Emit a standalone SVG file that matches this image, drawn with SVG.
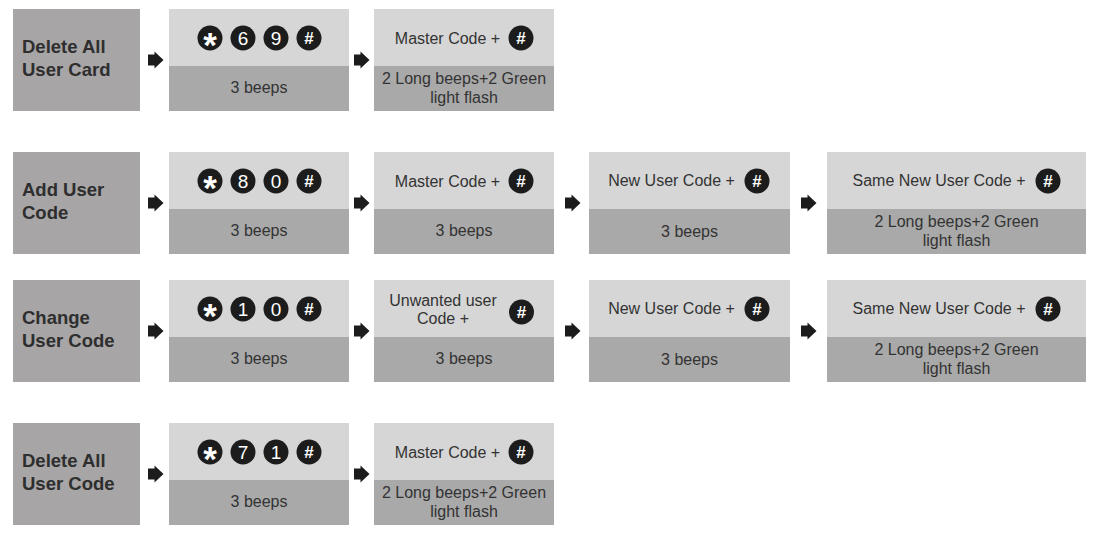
<svg xmlns="http://www.w3.org/2000/svg" width="1097" height="539" viewBox="0 0 1097 539">
<style>
.lab{fill:#a7a5a6}
.top{fill:#d6d6d6}
.bot{fill:#a9a9a9}
.lt{font-family:"Liberation Sans",Arial,sans-serif;font-weight:bold;font-size:18.5px;fill:#2e2e2e}
.t{font-family:"Liberation Sans",Arial,sans-serif;font-size:16px;fill:#333333;text-anchor:middle}
.k{fill:#1c1c1c}
.kd{font-family:"Liberation Sans",Arial,sans-serif;font-size:19px;fill:#ffffff;text-anchor:middle}
.kh{font-family:"Liberation Sans",Arial,sans-serif;font-weight:bold;font-size:17px;fill:#ffffff;text-anchor:middle}
.ks{font-family:"Liberation Sans",Arial,sans-serif;font-weight:bold;font-size:35px;fill:#ffffff;text-anchor:middle}
.arr{fill:#1c1c1c}
</style>
<defs>
<path id="ar" d="M0,-5.5 H6.5 V-8.5 L15.5,0 L6.5,8.5 V5.5 H0 Z"/>
</defs>
<rect width="1097" height="539" fill="#ffffff"/>

<!-- Row 1 -->
<g id="r1-label">
<rect class="lab" x="13" y="9" width="127" height="102"/>
<text class="lt" x="22" y="53">Delete All</text>
<text class="lt" x="22" y="76">User Card</text>
</g>
<g id="r1-keys">
<rect class="top" x="169" y="9" width="180" height="57"/>
<rect class="bot" x="169" y="66" width="180" height="45"/>
<circle class="k" cx="210" cy="38" r="12.5"/><text class="ks" x="210" y="57">*</text>
<circle class="k" cx="243" cy="38" r="12.5"/><text class="kd" x="243" y="45">6</text>
<circle class="k" cx="276" cy="38" r="12.5"/><text class="kd" x="276" y="45">9</text>
<circle class="k" cx="309" cy="38" r="12.5"/><text class="kh" x="309" y="44">#</text>
<text class="t" x="259" y="93">3 beeps</text>
</g>
<g id="r1-master">
<rect class="top" x="374" y="9" width="180" height="57"/>
<rect class="bot" x="374" y="66" width="180" height="45"/>
<text class="t" x="447.5" y="44">Master Code +</text>
<circle class="k" cx="521" cy="38" r="12.5"/><text class="kh" x="521" y="44">#</text>
<text class="t" x="464" y="84">2 Long beeps+2 Green</text>
<text class="t" x="464" y="103">light flash</text>
</g>

<!-- Row 2 -->
<g id="r2-label">
<rect class="lab" x="13" y="152" width="127" height="102"/>
<text class="lt" x="22" y="196">Add User</text>
<text class="lt" x="22" y="219">Code</text>
</g>
<g id="r2-keys">
<rect class="top" x="169" y="152" width="180" height="57"/>
<rect class="bot" x="169" y="209" width="180" height="45"/>
<circle class="k" cx="210" cy="181" r="12.5"/><text class="ks" x="210" y="200">*</text>
<circle class="k" cx="243" cy="181" r="12.5"/><text class="kd" x="243" y="188">8</text>
<circle class="k" cx="276" cy="181" r="12.5"/><text class="kd" x="276" y="188">0</text>
<circle class="k" cx="309" cy="181" r="12.5"/><text class="kh" x="309" y="187">#</text>
<text class="t" x="259" y="236">3 beeps</text>
</g>
<g id="r2-master">
<rect class="top" x="374" y="152" width="180" height="57"/>
<rect class="bot" x="374" y="209" width="180" height="45"/>
<text class="t" x="447.5" y="187">Master Code +</text>
<circle class="k" cx="521" cy="181" r="12.5"/><text class="kh" x="521" y="187">#</text>
<text class="t" x="464" y="236">3 beeps</text>
</g>
<g id="r2-new">
<rect class="top" x="589" y="152" width="201" height="57"/>
<rect class="bot" x="589" y="209" width="201" height="45"/>
<text class="t" x="671.5" y="186">New User Code +</text>
<circle class="k" cx="757" cy="181" r="12.5"/><text class="kh" x="757" y="187">#</text>
<text class="t" x="689.5" y="237">3 beeps</text>
</g>
<g id="r2-same">
<rect class="top" x="827" y="152" width="259" height="57"/>
<rect class="bot" x="827" y="209" width="259" height="45"/>
<text class="t" x="939" y="186">Same New User Code +</text>
<circle class="k" cx="1048" cy="181" r="12.5"/><text class="kh" x="1048" y="187">#</text>
<text class="t" x="956.5" y="227">2 Long beeps+2 Green</text>
<text class="t" x="956.5" y="246">light flash</text>
</g>

<!-- Row 3 -->
<g id="r3-label">
<rect class="lab" x="13" y="280" width="127" height="102"/>
<text class="lt" x="22" y="324">Change</text>
<text class="lt" x="22" y="347">User Code</text>
</g>
<g id="r3-keys">
<rect class="top" x="169" y="280" width="180" height="57"/>
<rect class="bot" x="169" y="337" width="180" height="45"/>
<circle class="k" cx="210" cy="309" r="12.5"/><text class="ks" x="210" y="328">*</text>
<circle class="k" cx="243" cy="309" r="12.5"/><text class="kd" x="243" y="316">1</text>
<circle class="k" cx="276" cy="309" r="12.5"/><text class="kd" x="276" y="316">0</text>
<circle class="k" cx="309" cy="309" r="12.5"/><text class="kh" x="309" y="315">#</text>
<text class="t" x="259" y="364">3 beeps</text>
</g>
<g id="r3-unwanted">
<rect class="top" x="374" y="280" width="180" height="57"/>
<rect class="bot" x="374" y="337" width="180" height="45"/>
<text class="t" x="443" y="305.5">Unwanted user</text>
<text class="t" x="443" y="324">Code +</text>
<circle class="k" cx="521.5" cy="312" r="12.5"/><text class="kh" x="521.5" y="318">#</text>
<text class="t" x="464" y="364">3 beeps</text>
</g>
<g id="r3-new">
<rect class="top" x="589" y="280" width="201" height="57"/>
<rect class="bot" x="589" y="337" width="201" height="45"/>
<text class="t" x="671.5" y="314">New User Code +</text>
<circle class="k" cx="757" cy="309" r="12.5"/><text class="kh" x="757" y="315">#</text>
<text class="t" x="689.5" y="365">3 beeps</text>
</g>
<g id="r3-same">
<rect class="top" x="827" y="280" width="259" height="57"/>
<rect class="bot" x="827" y="337" width="259" height="45"/>
<text class="t" x="939" y="314">Same New User Code +</text>
<circle class="k" cx="1048" cy="309" r="12.5"/><text class="kh" x="1048" y="315">#</text>
<text class="t" x="956.5" y="355">2 Long beeps+2 Green</text>
<text class="t" x="956.5" y="374">light flash</text>
</g>

<!-- Row 4 -->
<g id="r4-label">
<rect class="lab" x="13" y="423" width="127" height="102"/>
<text class="lt" x="22" y="467">Delete All</text>
<text class="lt" x="22" y="490">User Code</text>
</g>
<g id="r4-keys">
<rect class="top" x="169" y="423" width="180" height="57"/>
<rect class="bot" x="169" y="480" width="180" height="45"/>
<circle class="k" cx="210" cy="452" r="12.5"/><text class="ks" x="210" y="471">*</text>
<circle class="k" cx="243" cy="452" r="12.5"/><text class="kd" x="243" y="459">7</text>
<circle class="k" cx="276" cy="452" r="12.5"/><text class="kd" x="276" y="459">1</text>
<circle class="k" cx="309" cy="452" r="12.5"/><text class="kh" x="309" y="458">#</text>
<text class="t" x="259" y="507">3 beeps</text>
</g>
<g id="r4-master">
<rect class="top" x="374" y="423" width="180" height="57"/>
<rect class="bot" x="374" y="480" width="180" height="45"/>
<text class="t" x="447.5" y="458">Master Code +</text>
<circle class="k" cx="521" cy="452" r="12.5"/><text class="kh" x="521" y="458">#</text>
<text class="t" x="464" y="498">2 Long beeps+2 Green</text>
<text class="t" x="464" y="517">light flash</text>
</g>

<g id="connectors" class="arr">
<use href="#ar" x="148" y="60"/>
<use href="#ar" x="354" y="60"/>
<use href="#ar" x="148" y="203"/>
<use href="#ar" x="354" y="203"/>
<use href="#ar" x="565" y="203"/>
<use href="#ar" x="801" y="203"/>
<use href="#ar" x="148" y="331"/>
<use href="#ar" x="354" y="331"/>
<use href="#ar" x="565" y="331"/>
<use href="#ar" x="801" y="331"/>
<use href="#ar" x="148" y="474"/>
<use href="#ar" x="354" y="474"/>
</g>
</svg>
